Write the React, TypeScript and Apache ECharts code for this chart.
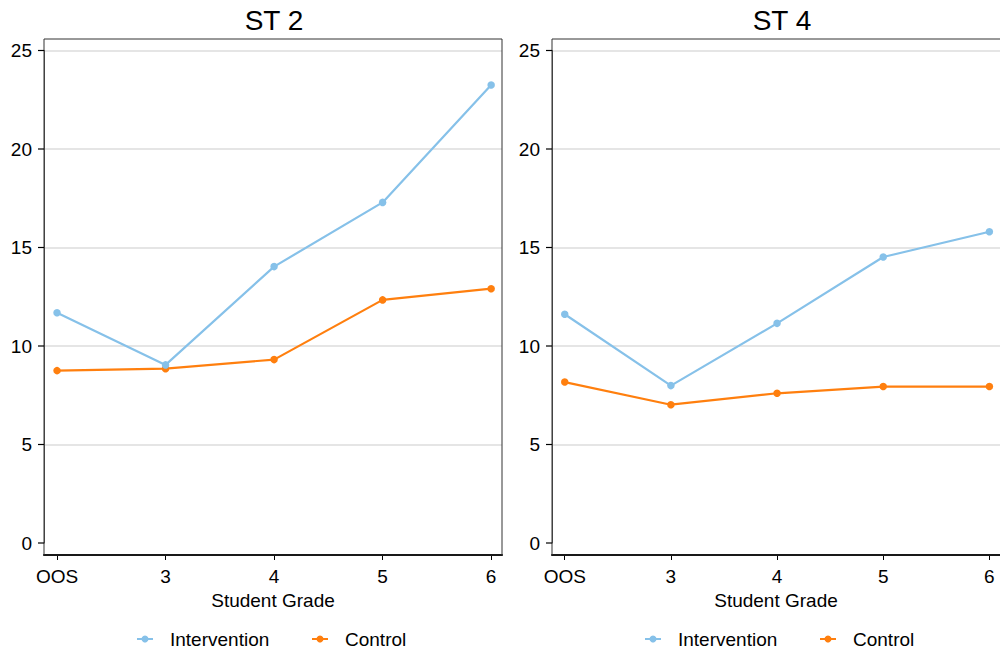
import React, { useEffect, useRef } from "react";
import * as echarts from "echarts";

const categories = ["OOS", "3", "4", "5", "6"];
const panelTitles = ["ST 2", "ST 4"];
const seriesNames = ["Intervention", "Control"];
const st2Intervention = [11.69, 9.04, 14.03, 17.29, 23.25];
const st2Control = [8.75, 8.85, 9.31, 12.34, 12.91];
const st4Intervention = [11.61, 7.99, 11.15, 14.52, 15.8];
const st4Control = [8.17, 7.02, 7.6, 7.94, 7.94];
const yTicks = [0, 5, 10, 15, 20, 25];

const BLUE = "#86c1e9";
const ORANGE = "#ff7f0e";
const COLORS = [BLUE, ORANGE];
const FONT = "Liberation Sans, Arial, sans-serif";
const FS = 19;

export default function App() {
  const ref = useRef<HTMLDivElement>(null);
  useEffect(() => {
    if (!ref.current) return;
    const chart = echarts.init(ref.current, null, { renderer: "svg" });
    const W = 1000;
    const H = 651;
    const panels = [
      { left: 44, width: 458 },
      { left: 552, width: 458 },
    ];
    const top = 50.5;
    const bottom = 543;
    const frameTop = 39;
    const frameBottom = 555;
    const panelData = [
      [st2Intervention, st2Control],
      [st4Intervention, st4Control],
    ];
    const toPts = (arr: number[]) => arr.map((v, i) => [i, v]);

    const grids = panels.map((p) => ({
      left: p.left,
      right: W - p.left - p.width,
      top: top,
      bottom: H - bottom,
      containLabel: false,
    }));

    const xAxes = panels.map((p, i) => ({
      type: "value",
      gridIndex: i,
      min: -0.12,
      max: 4.1,
      offset: frameBottom - bottom,
      axisLine: { show: true, onZero: false, lineStyle: { color: "#000", width: 2 } },
      axisTick: {
        show: true,
        length: 5,
        customValues: [0, 1, 2, 3, 4],
        lineStyle: { color: "#000", width: 1 },
      },
      axisLabel: {
        customValues: [0, 1, 2, 3, 4],
        formatter: (v: number) => categories[Math.round(v)],
        fontSize: FS,
        color: "#000",
        fontFamily: FONT,
        margin: 12,
      },
      splitLine: { show: false },
      name: "Student Grade",
      nameLocation: "middle",
      nameGap: 25,
      nameTextStyle: { fontSize: FS, color: "#000", fontFamily: FONT },
    }));

    const yAxes = panels.map((p, i) => ({
      type: "value",
      gridIndex: i,
      min: yTicks[0],
      max: yTicks[yTicks.length - 1],
      interval: 5,
      axisLine: { show: true, onZero: false, lineStyle: { color: "#555", width: 1 } },
      axisTick: { show: false },
      axisLabel: {
        fontSize: FS,
        color: "#000",
        fontFamily: FONT,
        margin: 12,
      },
      splitLine: {
        show: true,
        showMinLine: false,
        lineStyle: { color: "#dcdcdc", width: 1.5 },
      },
    }));

    const series: any[] = [];
    panelData.forEach((pd, i) => {
      pd.forEach((arr, j) => {
        series.push({
          type: "line",
          name: seriesNames[j],
          xAxisIndex: i,
          yAxisIndex: i,
          data: toPts(arr),
          symbol: "circle",
          symbolSize: 7.5,
          color: COLORS[j],
          lineStyle: { width: 2.2, color: COLORS[j] },
          itemStyle: { color: COLORS[j] },
          z: 3 + (1 - j),
        });
      });
    });

    const titles = panels.map((p, i) => ({
      text: panelTitles[i],
      left: p.left + p.width / 2 - 4,
      textAlign: "center",
      top: 1,
      textStyle: { fontSize: 28, fontWeight: "normal", color: "#000", fontFamily: FONT },
    }));

    const frames = panels.map((p) => ({
      type: "rect",
      shape: { x: p.left, y: frameTop, width: p.width, height: frameBottom - frameTop },
      style: { fill: "none", stroke: "#333", lineWidth: 1 },
      silent: true,
      z: 10,
    }));

    // legend items (one row under each panel)
    const legendY = 639;
    const legendOffsets = [137, 312];
    const legendItems: any[] = [];
    panels.forEach((p, i) => {
      seriesNames.forEach((name, j) => {
        const x0 = legendOffsets[j] + i * 508;
        legendItems.push({
          type: "group",
          silent: true,
          children: [
            {
              type: "line",
              shape: { x1: x0, y1: legendY, x2: x0 + 16, y2: legendY },
              style: { stroke: COLORS[j], lineWidth: 2 },
            },
            {
              type: "circle",
              shape: { cx: x0 + 8, cy: legendY, r: 3.5 },
              style: { fill: COLORS[j] },
            },
            {
              type: "text",
              x: x0 + 33,
              y: legendY,
              style: {
                text: name,
                fontSize: FS,
                fontFamily: FONT,
                fill: "#000",
                verticalAlign: "middle",
                align: "left",
              },
            },
          ],
        });
      });
    });

    chart.setOption({
      animation: false,
      backgroundColor: "#fff",
      title: titles,
      grid: grids,
      xAxis: xAxes,
      yAxis: yAxes,
      series: series,
      graphic: [...frames, ...legendItems],
    });

    // y-axis tick marks, positioned through the axis scale
    const tickMarks: any[] = [];
    panels.forEach((p, i) => {
      yTicks.forEach((v) => {
        const py = chart.convertToPixel({ yAxisIndex: i }, v) as number;
        tickMarks.push({
          type: "line",
          silent: true,
          shape: { x1: p.left - 6, y1: py, x2: p.left, y2: py },
          style: { stroke: "#000", lineWidth: 1.2 },
          z: 11,
        });
      });
    });
    chart.setOption({ graphic: [...frames, ...legendItems, ...tickMarks] });

    return () => chart.dispose();
  }, []);

  return (
    <div style={{ position: "fixed", left: 0, top: 0, width: 1000, height: 651, overflow: "hidden" }}>
      <div ref={ref} style={{ width: 1000, height: 651 }} />
    </div>
  );
}
